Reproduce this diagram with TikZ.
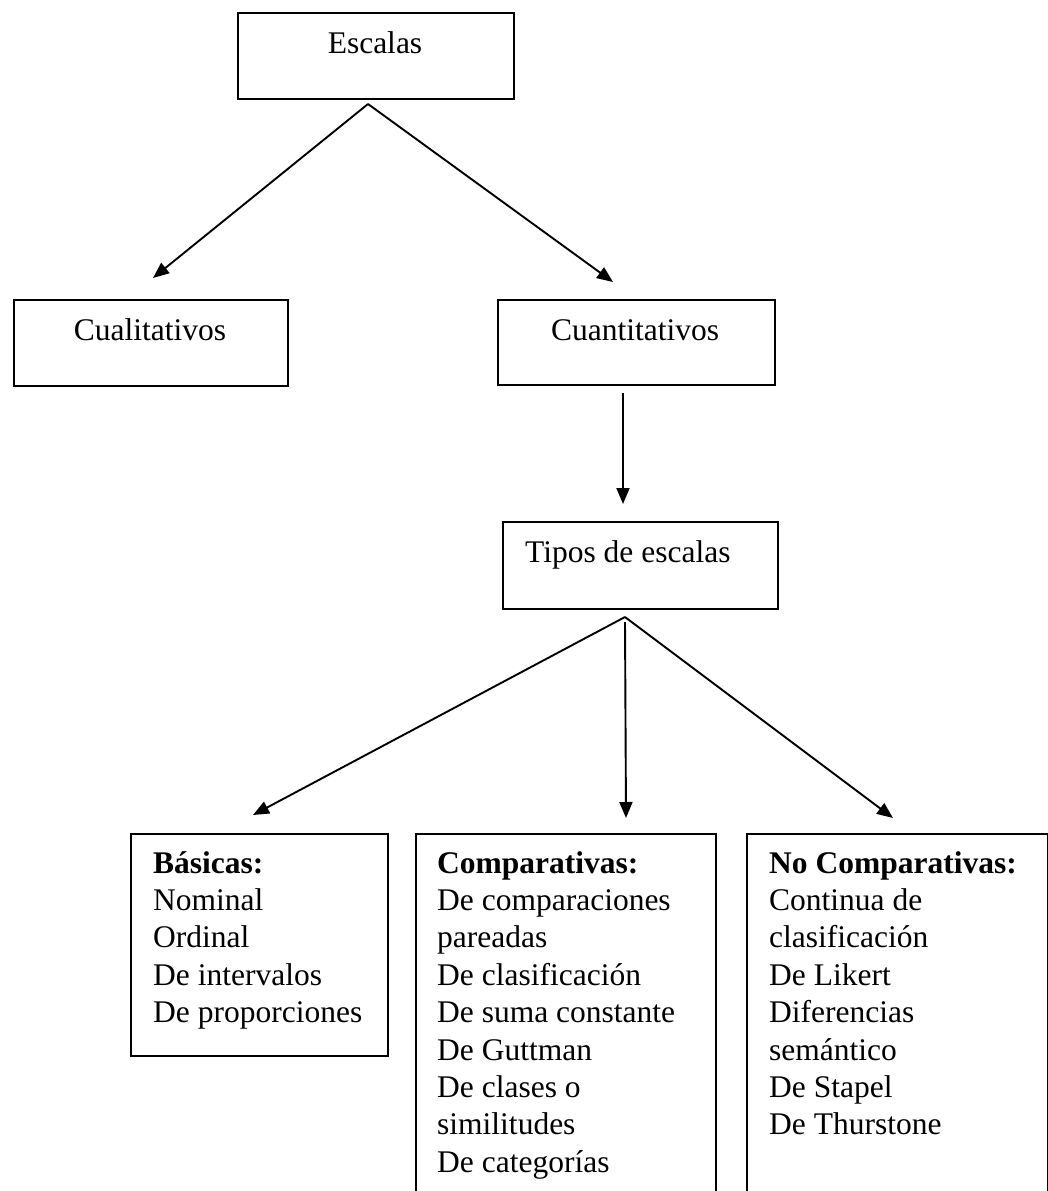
\documentclass[tikz,border=0pt]{standalone}
\usepackage{fontspec}
\setmainfont{Liberation Serif}
\usetikzlibrary{arrows.meta}
\begin{document}
\begin{tikzpicture}[x=1pt,y=-1pt,
  boxshape/.style={draw, line width=2pt, rectangle, inner sep=0pt, anchor=north west},
  txt/.style={inner sep=0pt, font=\fontsize{31.5}{37.4}\selectfont},
  listtxt/.style={txt, align=left, anchor=north west},
  conn/.style={line width=1.9pt, -{Triangle[length=16pt,width=13pt]}}]
\clip (0,0) rectangle (1048,1191);
\fill[white] (0,0) rectangle (1048,1191);

% boxes
\node[boxshape, minimum width=276pt, minimum height=86pt] (escalas) at (237,12) {};
\node[boxshape, minimum width=274pt, minimum height=86pt] (cuali) at (13,299) {};
\node[boxshape, minimum width=277pt, minimum height=85pt] (cuanti) at (497,299) {};
\node[boxshape, minimum width=275pt, minimum height=87pt] (tipos) at (502,521) {};
\node[boxshape, minimum width=257pt, minimum height=222pt] (basicas) at (130,833) {};
\node[boxshape, minimum width=300pt, minimum height=400pt] (compar) at (415,833) {};
\node[boxshape, minimum width=301pt, minimum height=400pt] (nocompar) at (746,833) {};

% labels
\node[txt, anchor=base] (t-escalas) at (375,53) {Escalas};
\node[txt, anchor=base] (t-cuali) at (150,340) {Cualitativos};
\node[txt, anchor=base] (t-cuanti) at (635,340) {Cuantitativos};
\node[txt, anchor=base west] (t-tipos) at (525,562) {Tipos de escalas};
\node[listtxt] (t-basicas) at (153,846.8) {\strut\textbf{Básicas:}\\Nominal\\Ordinal\\De intervalos\\De proporciones};
\node[listtxt] (t-compar) at (437,846.8) {\strut\textbf{Comparativas:}\\De comparaciones\\pareadas\\De clasificación\\De suma constante\\De Guttman\\De clases o\\similitudes\\De categorías};
\node[listtxt] (t-nocompar) at (769,846.8) {\strut\textbf{No Comparativas:}\\Continua de\\clasificación\\De Likert\\Diferencias\\semántico\\De Stapel\\De Thurstone};

% connector ends
\coordinate (fork1) at (368,104);
\coordinate (to-cuali) at (153,278);
\coordinate (to-cuanti) at (613,282);
\coordinate (from-cuanti) at (623,393);
\coordinate (to-tipos) at (623,504);
\coordinate (fork2) at (625,617);
\coordinate (fork2b) at (625,622);
\coordinate (to-basicas) at (253,815);
\coordinate (to-compar) at (626,818);
\coordinate (to-nocompar) at (893,818);

% connectors
\draw[conn] (fork1) -- (to-cuali);
\draw[conn] (fork1) -- (to-cuanti);
\draw[conn] (from-cuanti) -- (to-tipos);
\draw[conn] (fork2) -- (to-basicas);
\draw[conn] (fork2b) -- (to-compar);
\draw[conn] (fork2) -- (to-nocompar);
\end{tikzpicture}
\end{document}
